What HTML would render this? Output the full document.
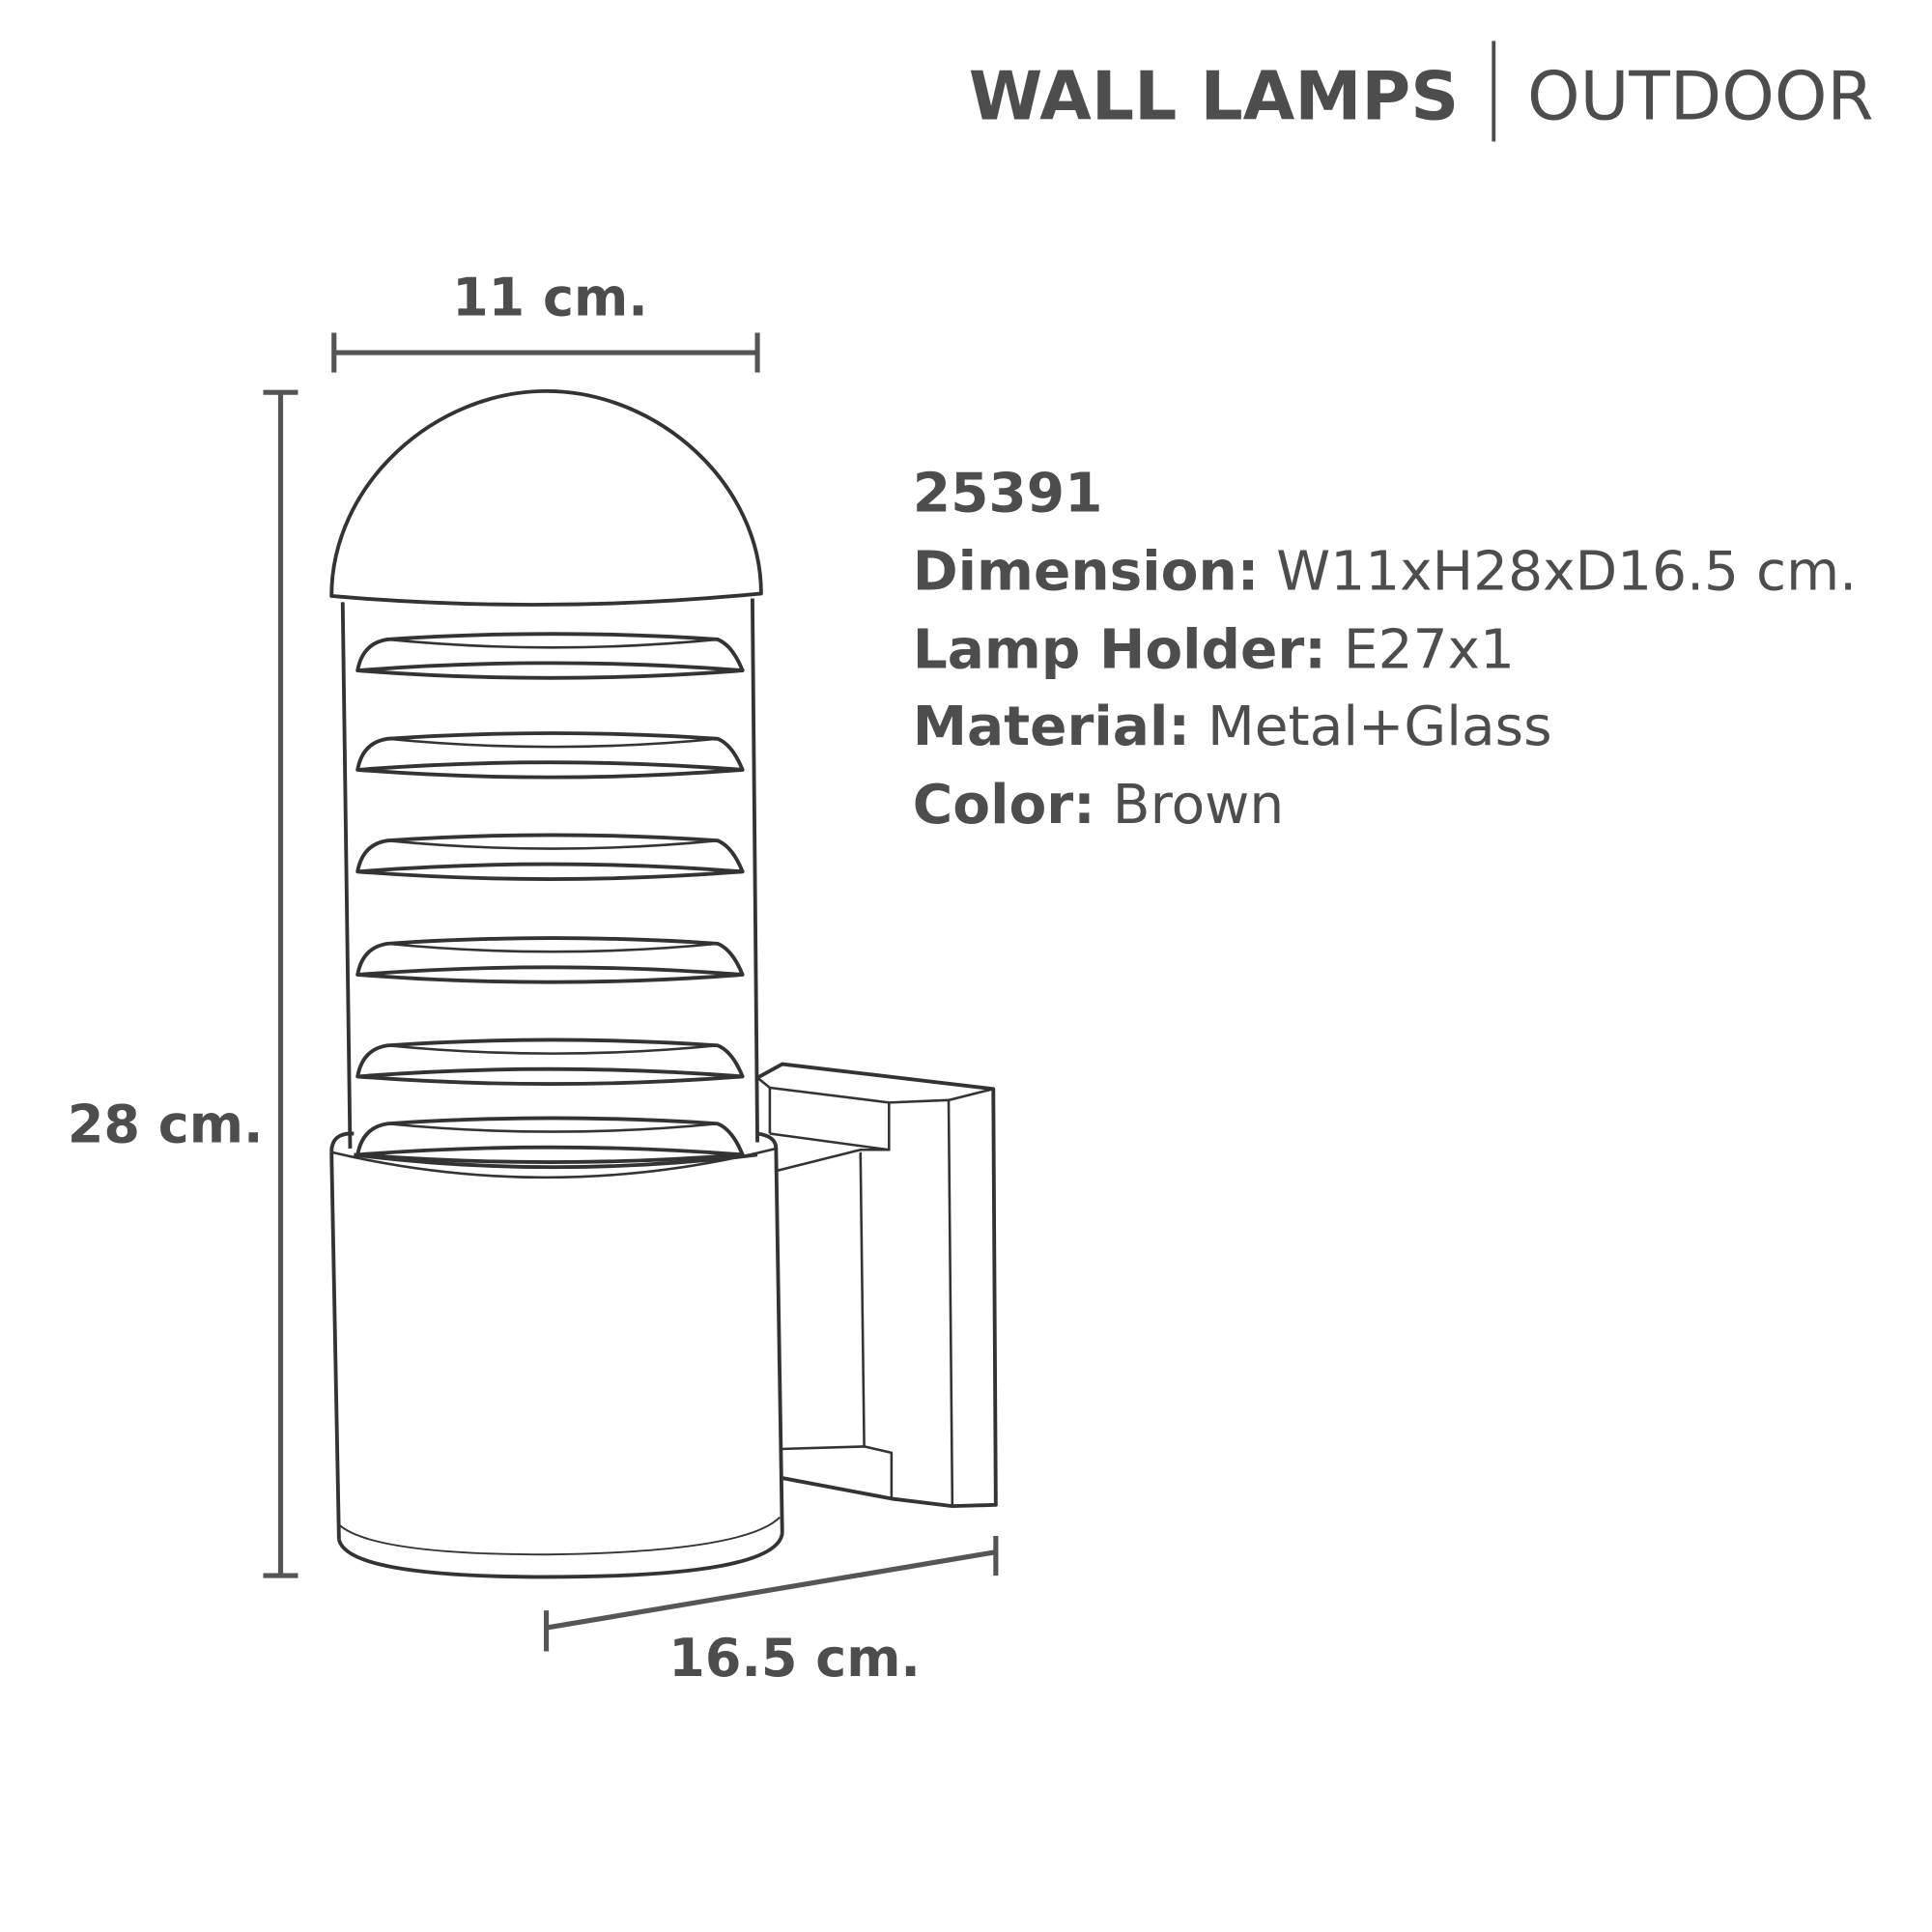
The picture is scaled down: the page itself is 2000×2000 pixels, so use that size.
<!DOCTYPE html>
<html><head><meta charset="utf-8"><style>
html,body{margin:0;padding:0;background:#fff;}
svg{display:block;}
text{font-family:"DejaVu Sans","Liberation Sans",sans-serif;fill:#4d4d4d;}
</style></head><body>
<svg width="2000" height="2000" viewBox="0 0 1556 1556" xmlns="http://www.w3.org/2000/svg">
<rect width="1556" height="1556" fill="#fff"/>
<text x="1175" y="96" font-size="54" font-weight="bold" text-anchor="end">WALL LAMPS</text>
<line x1="1203" y1="33" x2="1203" y2="114" stroke="#4d4d4d" stroke-width="3"/>
<text x="1230" y="96" font-size="54">OUTDOOR</text>

<g font-size="44">
<text x="735" y="412" font-weight="bold">25391</text>
<text x="735" y="475"><tspan font-weight="bold">Dimension:</tspan> W11xH28xD16.5 cm.</text>
<text x="735" y="538"><tspan font-weight="bold">Lamp Holder:</tspan> E27x1</text>
<text x="735" y="600"><tspan font-weight="bold">Material:</tspan> Metal+Glass</text>
<text x="735" y="663"><tspan font-weight="bold">Color:</tspan> Brown</text>
</g>

<g stroke="#555" stroke-width="4" fill="none">
<line x1="269" y1="284" x2="610" y2="284"/><line x1="269" y1="268" x2="269" y2="300"/><line x1="610" y1="268" x2="610" y2="300"/>
<line x1="226" y1="316" x2="226" y2="1269"/><line x1="212" y1="316" x2="240" y2="316"/><line x1="212" y1="1269" x2="240" y2="1269"/>
<line x1="440" y1="1311" x2="802" y2="1250"/><line x1="440" y1="1297" x2="440" y2="1330"/><line x1="802" y1="1237" x2="802" y2="1269"/>
</g>
<g font-size="42" font-weight="bold">
<text x="443" y="254" text-anchor="middle">11 cm.</text>
<text x="212" y="920" text-anchor="end">28 cm.</text>
<text x="640" y="1350" text-anchor="middle">16.5 cm.</text>
</g>

<g stroke="#333" stroke-width="3" fill="none" stroke-linejoin="round">
<path d="M267,480 C267,390 350,315 440,315 C530,315 613,390 613,478 Q440,495 267,480 Z"/>
<line x1="276" y1="485" x2="282" y2="925"/>
<line x1="606" y1="482" x2="610" y2="920"/>
<g id="lv">
<path d="M288,540 Q292,518 312,515 Q445,506 578,515 Q590,520 598,540"/>
<path d="M312,515 Q445,528 578,515" stroke-width="2"/>
<path d="M288,540 Q443,528 598,540 Q443,552 288,540 Z"/>
</g>
<use href="#lv" y="80"/><use href="#lv" y="162"/><use href="#lv" y="245"/><use href="#lv" y="327"/><use href="#lv" y="390"/>
<path d="M267,928 Q267,912 285,913"/>
<path d="M610,913 Q625,915 625,925"/>
<path d="M285,930 Q445,950 610,930"/>
<path d="M267,928 Q445,970 625,925" stroke-width="2"/>
<line x1="267" y1="928" x2="273" y2="1240"/>
<line x1="625" y1="925" x2="630" y2="1235"/>
<path d="M273,1240 Q280,1270 440,1270 Q625,1270 630,1235"/>
<path d="M273,1228 Q300,1252 440,1252 Q600,1250 628,1222" stroke-width="1.5"/>
<path d="M610,868 L630,857 L800,877 L802,1212 L767,1213 L718,1207 L628,1190"/>
<path d="M610,868 L620,876 L716,888 L764,886 L800,877" stroke-width="2"/>
<path d="M764,886 L767,1213" stroke-width="2"/>
<path d="M716,888 L716,926 L620,913" stroke-width="2"/>
<path d="M620,876 L620,913" stroke-width="2"/>
<path d="M625,943 L693,926 L716,926" stroke-width="2"/>
<path d="M693,928 L696,1165 L718,1170 L718,1207" stroke-width="2"/>
<path d="M628,1167 L696,1165" stroke-width="2"/>
</g>
</svg>
</body></html>
